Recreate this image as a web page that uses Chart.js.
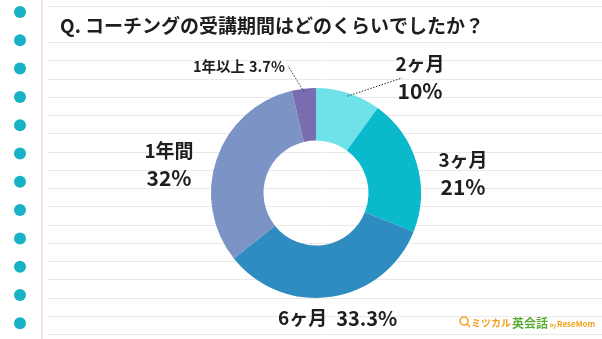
<!DOCTYPE html>
<html>
<head>
<meta charset="utf-8">
<script src="https://cdn.jsdelivr.net/npm/chart.js@4.4.1/dist/chart.umd.min.js"></script>
<style>
  html, body { margin: 0; padding: 0; background: #fff; }
  #wrap { width: 602px; height: 339px; }
</style>
</head>
<body>
<div id="wrap"><canvas id="chart" width="602" height="339"></canvas></div>
<script>
const title = "Q. コーチングの受講期間はどのくらいでしたか？";
const categories = ["2ヶ月", "3ヶ月", "6ヶ月", "1年間", "1年以上"];
const percents = [10, 21, 33.3, 32, 3.7];
const percentLabels = ["10%", "21%", "33.3%", "32%", "3.7%"];
const sliceColors = ["#6ee2e8", "#0bb9cd", "#2f8cc0", "#7b94c5", "#7a6cb0"];

const FONT = "'Noto Sans CJK JP', 'Noto Sans', sans-serif";

// label placement per slice
const labelSpots = [
  { x: 420, y: 64, layout: "two", size: 19, lead: [402, 78] },
  { x: 463, y: 160, layout: "two", size: 19 },
  { x: 278, y: 318, layout: "one", size: 19, gap: 9, big: 1 },
  { x: 169, y: 151, layout: "two", size: 19 },
  { x: 193, y: 66, layout: "one", size: 14.5, gap: 4, big: 0, lead: [288, 66] }
];

// notebook paper background
const paper = {
  id: "paper",
  beforeDraw(chart) {
    const ctx = chart.ctx;
    ctx.save();
    ctx.fillStyle = "#fff";
    ctx.fillRect(0, 0, chart.width, chart.height);
    ctx.strokeStyle = "#e9e9e9";
    ctx.lineWidth = 1;
    for (let y = 5.5; y < chart.height; y += 18.25) {
      if (y > 10 && y < 38) continue;
      ctx.beginPath();
      ctx.moveTo(47, Math.round(y) + 0.5);
      ctx.lineTo(chart.width, Math.round(y) + 0.5);
      ctx.stroke();
    }
    ctx.strokeStyle = "#f4d9e1";
    ctx.lineWidth = 1.5;
    ctx.beginPath();
    ctx.moveTo(42, 0);
    ctx.lineTo(42, chart.height);
    ctx.stroke();
    ctx.fillStyle = "#17b2c6";
    for (let y = 12; y < chart.height; y += 28.3) {
      ctx.beginPath();
      ctx.arc(20, y, 6, 0, Math.PI * 2);
      ctx.fill();
    }
    // title
    ctx.fillStyle = "#1e1e1e";
    ctx.font = "bold 19px " + FONT;
    ctx.textBaseline = "middle";
    ctx.textAlign = "left";
    ctx.fillText(title, 60, 26);
    ctx.restore();
  }
};

const sliceLabels = {
  id: "sliceLabels",
  afterDatasetsDraw(chart) {
    const ctx = chart.ctx;
    const meta = chart.getDatasetMeta(0);
    ctx.save();
    ctx.fillStyle = "#1e1e1e";
    ctx.textBaseline = "middle";
    meta.data.forEach((arc, i) => {
      const spot = labelSpots[i];
      const p = arc.getProps(["x", "y", "startAngle", "endAngle", "outerRadius"], true);
      if (spot.lead) {
        const mid = (p.startAngle + p.endAngle) / 2;
        const r = p.outerRadius * 0.97;
        ctx.save();
        ctx.strokeStyle = "#333";
        ctx.lineWidth = 1;
        ctx.setLineDash([1.5, 1.5]);
        ctx.beginPath();
        ctx.moveTo(p.x + Math.cos(mid) * r, p.y + Math.sin(mid) * r);
        ctx.lineTo(spot.lead[0], spot.lead[1]);
        ctx.stroke();
        ctx.restore();
      }
      ctx.font = "bold " + spot.size + "px " + FONT;
      if (spot.layout === "two") {
        ctx.textAlign = "center";
        ctx.fillText(categories[i], spot.x, spot.y);
        ctx.font = "bold " + (spot.size + 2) + "px " + FONT;
        ctx.fillText(percentLabels[i], spot.x, spot.y + 27);
      } else {
        ctx.textAlign = "left";
        ctx.fillText(categories[i], spot.x, spot.y);
        const w = ctx.measureText(categories[i]).width;
        ctx.font = "bold " + (spot.size + spot.big) + "px " + FONT;
        ctx.fillText(percentLabels[i], spot.x + w + spot.gap, spot.y);
      }
    });
    ctx.restore();
  }
};

// brand mark, bottom right
const brand = {
  id: "brand",
  afterDraw(chart) {
    const ctx = chart.ctx;
    ctx.save();
    ctx.textBaseline = "middle";
    ctx.textAlign = "left";
    ctx.strokeStyle = "#f2a62a";
    ctx.lineWidth = 1.6;
    ctx.beginPath();
    ctx.arc(464, 321, 4, 0, Math.PI * 2);
    ctx.moveTo(467, 324);
    ctx.lineTo(470, 327);
    ctx.stroke();
    const parts = [
      ["ミツカル", "bold 10px", "#f0a21e", 323, 1],
      ["英会話", "bold 12px", "#5aab32", 323, 2],
      ["by", "bold 5px", "#f0a21e", 325, 1],
      ["ReseMom", "bold 8px", "#f0a21e", 324, 0]
    ];
    let x = 471;
    parts.forEach(([t, f, c, y, g]) => {
      ctx.font = f + " " + FONT;
      ctx.fillStyle = c;
      ctx.fillText(t, x, y);
      x += ctx.measureText(t).width + g;
    });
    ctx.restore();
  }
};

new Chart(document.getElementById("chart"), {
  type: "doughnut",
  data: {
    labels: categories,
    datasets: [{
      data: percents,
      backgroundColor: sliceColors,
      borderWidth: 0
    }]
  },
  options: {
    responsive: false,
    devicePixelRatio: 1,
    animation: false,
    cutout: "50%",
    layout: { padding: { top: 88, bottom: 41, left: 211, right: 181 } },
    plugins: {
      legend: { display: false },
      tooltip: { enabled: false }
    }
  },
  plugins: [paper, sliceLabels, brand]
});
</script>
</body>
</html>
